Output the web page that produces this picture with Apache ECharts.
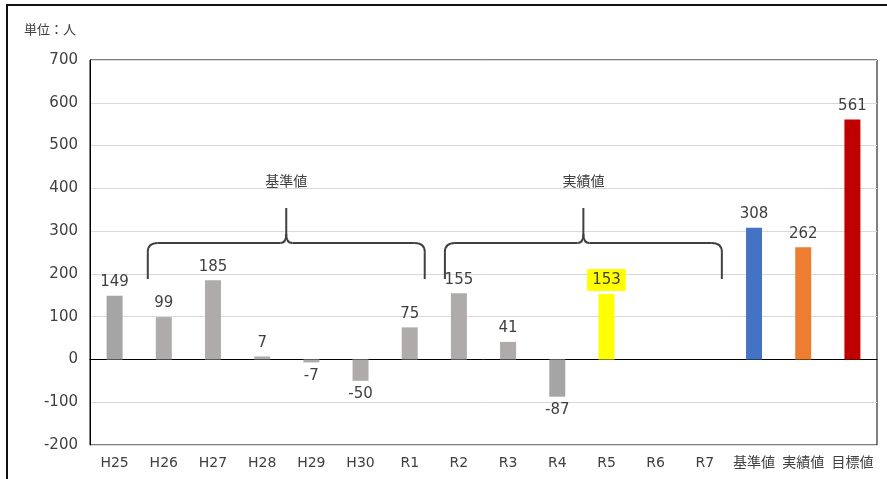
<!DOCTYPE html>
<html>
<head>
<meta charset="utf-8">
<script src="https://cdn.jsdelivr.net/npm/echarts@6/dist/echarts.min.js"></script>
<style>
html,body{margin:0;padding:0;background:#fff;}
#c{width:887px;height:479px;}
</style>
</head>
<body>
<div id="c"></div>
<script>
var categories = ['H25','H26','H27','H28','H29','H30','R1','R2','R3','R4','R5','R6','R7','基準値','実績値','目標値'];
var values = [149, 99, 185, 7, -7, -50, 75, 155, 41, -87, 153, null, null, 308, 262, 561];
var barColors = ['#A5A5A5','#AFABAB','#AFABAB','#AFABAB','#AFABAB','#AFABAB','#AFABAB','#AFABAB','#AFABAB','#A5A5A5','#FFFF00','#AFABAB','#AFABAB','#4472C4','#ED7D31','#C00000'];
var yTicks = [-200, -100, 0, 100, 200, 300, 400, 500, 600, 700];
var braces = [
  {label:'基準値', from:1, to:6, offL:-16, offR:15},
  {label:'実績値', from:7, to:12, offL:-14, offR:17}
];
var highlightIndex = 10;

var FONT = "'DejaVu Sans','Noto Sans CJK JP',sans-serif";
var JFONT = "'Noto Sans CJK JP',sans-serif";
var chart = echarts.init(document.getElementById('c'));

var data = values.map(function(v, i){
  var item = {value: v, itemStyle:{color: barColors[i]}};
  var lbl = {show: v !== null, position: v < 0 ? 'bottom' : 'top', distance: 6};
  if (i === highlightIndex) {
    lbl.backgroundColor = '#FFFF00';
    lbl.padding = [4, 5, 3, 5];
    lbl.distance = 3;
  }
  item.label = lbl;
  return item;
});

var baseGraphic = [
  {type:'rect', shape:{x:7, y:5, width:900, height:500}, style:{fill:'none', stroke:'#111', lineWidth:2}, z:100, silent:true},
  {type:'text', left: 24, top: 23, style:{text:'単位：人', fill:'#404040', fontSize: 13, fontFamily: JFONT}}
];

var option = {
  animation: false,
  backgroundColor: '#fff',
  grid: {left: 90, right: 10, top: 60, bottom: 34, show: true, borderColor: '#000', borderWidth: 1},
  xAxis: {
    type: 'category',
    data: categories,
    axisLine: {show: true, lineStyle: {color: '#000'}},
    axisTick: {show: false},
    axisLabel: {color: '#404040', fontSize: 14, fontFamily: FONT, margin: 11, interval: 0}
  },
  yAxis: {
    type: 'value',
    min: yTicks[0], max: yTicks[yTicks.length-1], interval: 100,
    axisLine: {show: true, lineStyle: {color: '#000'}},
    axisTick: {show: false},
    axisLabel: {color: '#404040', fontSize: 15, fontFamily: FONT, margin: 12},
    splitLine: {lineStyle: {color: '#D9D9D9', width: 1}}
  },
  series: [{
    type: 'bar',
    data: data,
    barWidth: 16,
    label: {color: '#404040', fontSize: 15, fontFamily: FONT}
  }],
  graphic: baseGraphic
};
chart.setOption(option);

var extra = baseGraphic.slice();
var stroke = {fill:'none', stroke:'#404040', lineWidth:2};
function ln(x1,y1,x2,y2){ extra.push({type:'line', shape:{x1:x1,y1:y1,x2:x2,y2:y2}, style:stroke, z:50, silent:true}); }
function qc(x1,y1,cx,cy,x2,y2){ extra.push({type:'bezierCurve', shape:{x1:x1,y1:y1,cpx1:cx,cpy1:cy,x2:x2,y2:y2}, style:stroke, z:50, silent:true}); }
braces.forEach(function(b){
  var x0 = chart.convertToPixel({xAxisIndex:0}, b.from) + b.offL;
  var x1 = chart.convertToPixel({xAxisIndex:0}, b.to) + b.offR;
  var yb = chart.convertToPixel({yAxisIndex:0}, 188);
  var yh = chart.convertToPixel({yAxisIndex:0}, 272);
  var yt = chart.convertToPixel({yAxisIndex:0}, 354);
  var yl = chart.convertToPixel({yAxisIndex:0}, 418);
  var m = (x0 + x1) / 2;
  ln(x0, yb, x0, yh+9);
  qc(x0, yh+9, x0, yh, x0+10, yh);
  ln(x0+10, yh, m-6, yh);
  qc(m-6, yh, m, yh, m, yh-9);
  ln(m, yh-9, m, yt);
  qc(m, yh-9, m, yh, m+6, yh);
  ln(m+6, yh, x1-10, yh);
  qc(x1-10, yh, x1, yh, x1, yh+9);
  ln(x1, yh+9, x1, yb);
  extra.push({type:'text', x: m, y: yl, style:{text:b.label, fill:'#404040', fontSize:14, fontFamily:JFONT, align:'center', verticalAlign:'middle'}, z:50});
});
chart.setOption({graphic: extra});
</script>
</body>
</html>
